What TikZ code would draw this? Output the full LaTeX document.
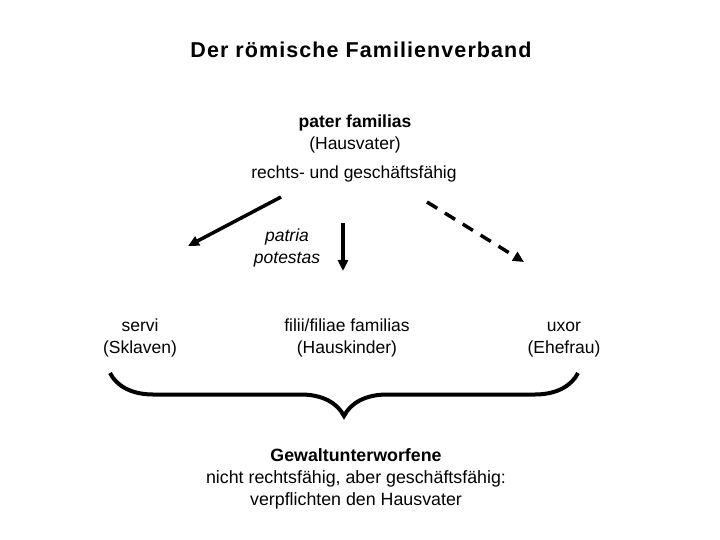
\documentclass[tikz,border=0pt]{standalone}
\usepackage{fontspec}
\setmainfont{Liberation Sans}
\usetikzlibrary{arrows.meta,decorations.pathreplacing}

\tikzset{
    txt/.style={align=center, inner sep=0pt, font=\fontsize{17.5bp}{22bp}\selectfont},
    pfeil/.style={line width=3.5bp, -{Triangle[length=11bp,width=10bp]}},
}

\begin{document}
\begin{tikzpicture}[x=1bp, y=-1bp]
        \useasboundingbox (0,0) rectangle (720,540);

        % Titel
        \node[txt, font=\fontsize{21.5bp}{25bp}\selectfont\bfseries\addfontfeatures{LetterSpace=5}] (titel) at (361,50) {Der römische Familienverband};

        % pater familias
        \node[txt] (pater) at (355,133) {\strut\textbf{pater familias}\\(Hausvater)};
        \node[txt] (faehig) at (354,174) {rechts- und geschäftsfähig};

        % Gewaltunterworfene
        \node[txt] (servi) at (140,337) {\strut servi\\(Sklaven)};
        \node[txt] (filii) at (347,337) {\strut filii/filiae familias\\(Hauskinder)};
        \node[txt] (uxor) at (564,337) {\strut uxor\\(Ehefrau)};
        \node[txt, font=\fontsize{17.5bp}{22bp}\selectfont\itshape] (potestas) at (287,247) {\strut patria\\potestas};

        \coordinate (l0) at (281,197);
        \coordinate (l1) at (188,246);
        \coordinate (m0) at (343,223);
        \coordinate (m1) at (343,271);
        \coordinate (r0) at (427,202);
        \coordinate (r1) at (524,262);

        \draw[pfeil] (l0) -- (l1);
        \draw[pfeil] (m0) -- (m1);
        \draw[pfeil, dash pattern=on 12bp off 9bp] (r0) -- (r1);

        % Klammer
        \coordinate (k0) at (110,373);
        \coordinate (k1) at (578,373);
        \draw[line width=4bp, decorate, decoration={brace, mirror, amplitude=43bp}] (k0) -- (k1);

        \node[txt, font=\fontsize{17.8bp}{22bp}\selectfont] (gewalt) at (356,478) {\strut\textbf{Gewaltunterworfene}\\nicht rechtsfähig, aber geschäftsfähig:\\verpflichten den Hausvater};
    \end{tikzpicture}
\end{document}
